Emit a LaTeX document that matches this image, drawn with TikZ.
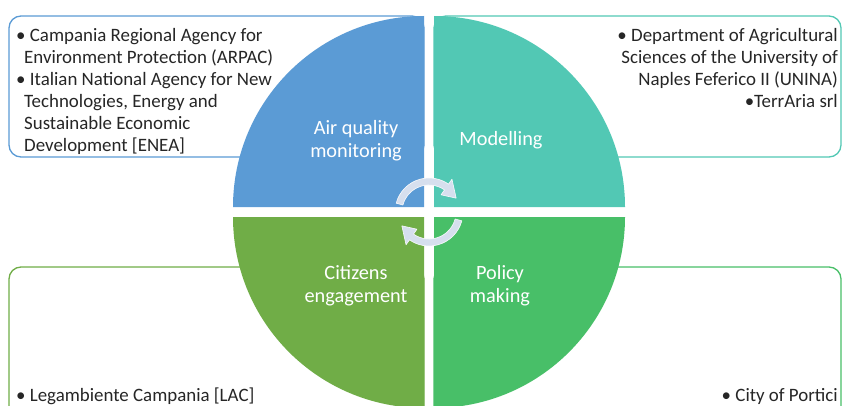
\documentclass[tikz,border=0pt]{standalone}
\usepackage{fontspec}
\setmainfont{Carlito}
\definecolor{qblue}{HTML}{5B9BD5}
\definecolor{qteal}{HTML}{52C8B4}
\definecolor{qolive}{HTML}{70AD47}
\definecolor{qgreen}{HTML}{48BF68}
\definecolor{arrowc}{HTML}{D6DFEE}
\definecolor{txt}{HTML}{262626}
\tikzset{
  infobox/.style={line width=1.3pt, rounded corners=12pt, fill=white},
  qlabel/.style={text=white, font=\fontsize{20.3}{23}\selectfont, align=center, inner sep=0pt},
  btext/.style={text=txt, font=\fontsize{18.9}{22}\selectfont, inner sep=0pt},
  cyc/.style={fill=arrowc, draw=white!85!arrowc, line width=0.6pt, line join=round}
}
\begin{document}
\begin{tikzpicture}[x=1pt,y=-1pt]
\useasboundingbox (0,0) rectangle (842,406);
% info boxes
\draw[infobox, draw=qblue] (9,16) rectangle (424,157);
\draw[infobox, draw=qteal] (434,16) rectangle (841,157);
\draw[infobox, draw=qolive] (9,267) rectangle (424,440);
\draw[infobox, draw=qgreen] (434,267) rectangle (841,440);
% quadrants
\fill[qblue] (233,207) arc[start angle=180, end angle=270, radius=191] -- (424,207) -- cycle;
\fill[qteal] (434,16) arc[start angle=270, end angle=360, radius=191] -- (434,207) -- cycle;
\fill[qolive] (233,217) arc[start angle=180, end angle=90, radius=191] -- (424,217) -- cycle;
\fill[qgreen] (625,217) arc[start angle=0, end angle=90, radius=191] -- (434,217) -- cycle;
% labels
\node[qlabel] (air) at (356,140.5) {Air quality\\monitoring};
\node[qlabel] (mod) at (501,140) {Modelling};
\node[qlabel] (cit) at (356,286) {Citizens\\engagement};
\node[qlabel] (pol) at (500,286) {Policy\\making};
% cycle arrows
\coordinate (c) at (429,212);
\path[cyc] ([shift={(c)}]195:34) arc[start angle=195, end angle=305, radius=34]
  -- ([shift={(c)}]305:40) -- ([shift={(c)}]333:30.5) -- ([shift={(c)}]305:21)
  -- ([shift={(c)}]305:27) arc[start angle=305, end angle=195, radius=27] -- cycle;
\path[cyc] ([shift={(c)}]15:34) arc[start angle=15, end angle=125, radius=34]
  -- ([shift={(c)}]125:40) -- ([shift={(c)}]153:30.5) -- ([shift={(c)}]125:21)
  -- ([shift={(c)}]125:27) arc[start angle=125, end angle=15, radius=27] -- cycle;
% texts
\node[btext, anchor=north west, align=left] (tl) at (16,28)
  {\textbullet{} Campania Regional Agency for\\
   \hspace*{8pt}Environment Protection (ARPAC)\\
   \textbullet{} Italian National Agency for New\\
   \hspace*{8pt}Technologies, Energy and\\
   \hspace*{8pt}Sustainable Economic\\
   \hspace*{8pt}Development [ENEA]};
\node[btext, anchor=north east, align=right] (tr) at (838,28)
  {\textbullet{} Department of Agricultural\\
   Sciences of the University of\\
   Naples Feferico II (UNINA)\\
   \textbullet TerrAria srl};
\node[btext, anchor=base west] (bl) at (16,401) {\textbullet{} Legambiente Campania [LAC]};
\node[btext, anchor=base east] (br) at (838,401) {\textbullet{} City of Portici};
\end{tikzpicture}
\end{document}
